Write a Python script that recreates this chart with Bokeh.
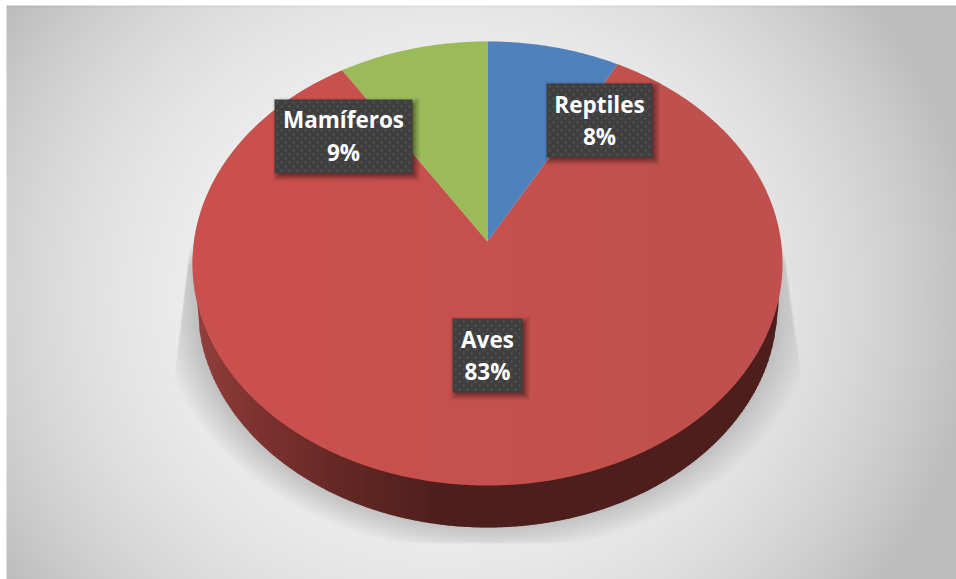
import numpy as np
from bokeh.core.properties import value
from bokeh.embed import file_html
from bokeh.plotting import figure
from bokeh.resources import INLINE

# Share of species per animal class
categories = ["Reptiles", "Aves", "Mamíferos"]
percentages = [8, 83, 9]
slice_colors = ["#4f81bd", "#c0504d", "#9bbb59"]

WIDTH, HEIGHT = 956, 579

# Geometry of the tilted disc, in page pixels
APEX_X, APEX_Y = 487, 241
TOP_RY, BOTTOM_RY = 200, 244
TILT = (BOTTOM_RY - TOP_RY) / (BOTTOM_RY + TOP_RY)
DEPTH = TOP_RY * (1 + TILT)
SPAN = 295 * np.sqrt(1 - TILT ** 2)
FACE_CY, FACE_RX, FACE_RY = 263, 295, 222
BASE_CY, BASE_RX, BASE_RY = 305, 290, 222


def project(theta):
    """Map a clockwise angle from twelve o'clock onto the tilted disc."""
    u, v = np.sin(theta), np.cos(theta)
    w = 1 + TILT * v
    return APEX_X + SPAN * u / w, APEX_Y - DEPTH * v / w


def backdrop():
    """Radial grey panel with the soft shadow thrown by the disc."""
    yy, xx = np.mgrid[0:HEIGHT, 0:WIDTH] + 0.5
    t = np.hypot((xx - 445) / 530, (yy - 295) / 490)
    grey = 244 - 54 * np.clip(t, 0, 1) ** 2.6

    dx = xx - APEX_X
    dy = np.maximum(yy - BASE_CY, 0)
    q = np.hypot(dx / 328, dy / 248)
    fade = np.clip((1 - q) / 0.115, 0, 1) ** 0.9
    left = 185 - (yy - 280) * 13 / 107
    right = 788 + (yy - 280) * 15 / 107
    fade *= np.clip((xx - left) / 1.5, 0, 1) * np.clip((right - xx) / 1.5, 0, 1)
    fade *= np.clip((543 - yy) / 1.0, 0, 1) * np.clip((yy - 245) / 20, 0, 1)
    grey = grey * (1 - fade) + 192 * fade

    grey = np.where((xx < 6) | (yy < 5), 255, grey)
    grey = np.where((xx >= 6) & (yy >= 5) & (yy < 7), grey - 8, grey)
    g = grey.astype(np.uint32)
    return (255 << 24) | (g << 16) | (g << 8) | g


def wall_color(x):
    stops = [192, 250, 350, 450, 782]
    r = np.interp(x, stops, [0x92, 0x80, 0x62, 0x4d, 0x4d])
    g = np.interp(x, stops, [0x40, 0x34, 0x27, 0x1e, 0x1e])
    b = np.interp(x, stops, [0x3e, 0x31, 0x24, 0x1c, 0x1c])
    return f"#{int(r):02x}{int(g):02x}{int(b):02x}"


p = figure(
    width=WIDTH, height=HEIGHT, x_range=(0, WIDTH), y_range=(HEIGHT, 0),
    output_backend="svg", toolbar_location=None, min_border=0,
    x_axis_type=None, y_axis_type=None, outline_line_color=None,
)
p.grid.visible = False

p.image_rgba(image=[backdrop()], x=0, y=0, dw=WIDTH, dh=HEIGHT)

# Side wall of the disc, as narrow vertical strips
strip_xs, strip_ys, strip_colors = [], [], []
for x0 in np.arange(APEX_X - BASE_RX, APEX_X + BASE_RX, 2.0):
    x1 = x0 + 3
    xs = np.array([x0, x1])
    rim = BASE_CY + BASE_RY * np.sqrt(np.clip(1 - ((xs - APEX_X) / BASE_RX) ** 2, 0, 1))
    strip_xs.append([x0, x1, x1, x0])
    strip_ys.append([FACE_CY, FACE_CY, rim[1], rim[0]])
    strip_colors.append(wall_color(x0))
p.patches(strip_xs, strip_ys, fill_color=strip_colors, line_color=None)


def slice_outline(start, stop):
    theta = np.radians(np.linspace(start, stop, max(int(stop - start) * 2, 8)))
    x, y = project(theta)
    return [APEX_X, *x, APEX_X], [APEX_Y, *y, APEX_Y]


# Slices run clockwise from twelve o'clock
edges = np.cumsum([0] + percentages) * 3.6
outlines = {c: slice_outline(a, b) for c, a, b in zip(categories, edges[:-1], edges[1:])}
colors = dict(zip(categories, slice_colors))

xs, ys = outlines["Aves"]
p.patch(xs, ys, fill_color=colors["Aves"], line_color=None)

# Very faint warm light falling from the left across the top face
for x_k in np.linspace(290, 690, 10):
    lim = np.arccos(np.clip((x_k - APEX_X) / FACE_RX, -1, 1))
    a = np.linspace(lim, 2 * np.pi - lim, 160)
    p.patch(APEX_X + FACE_RX * np.cos(a), FACE_CY + FACE_RY * np.sin(a),
            fill_color="#dd5f5c", fill_alpha=0.04, line_color=None)

for name in ("Reptiles", "Mamíferos"):
    xs, ys = outlines[name]
    p.patch(xs, ys, fill_color=colors[name], line_color=None)

# Data labels: left, right, top, bottom of each box and the two text rows
label_boxes = {
    "Reptiles": (546, 652, 83, 157, 104, 136),
    "Aves": (452, 522, 318, 392, 339, 371),
    "Mamíferos": (274, 412, 99, 173, 119, 152),
}
for name, pct in zip(categories, percentages):
    l, r, t, b, row1, row2 = label_boxes[name]
    cx, cy = (l + r) / 2, (t + b) / 2
    for grow, alpha in zip(range(7, -1, -1), (0.03, 0.04, 0.05, 0.06, 0.07, 0.08, 0.09, 0.10)):
        p.rect(cx + 3, cy + 3, r - l + 2 * grow - 4, b - t + 2 * grow - 4,
               fill_color="black", fill_alpha=alpha, line_color=None)
    p.rect(cx, cy, r - l, b - t, fill_color="#3f3f3f", line_color=None)

    dot_x, dot_y = [], []
    for k, yy in enumerate(np.arange(t + 3, b - 1, 4.0)):
        for xx in np.arange(l + 3 + (k % 2) * 4.0, r - 1, 8.0):
            dot_x.append(xx)
            dot_y.append(yy)
    p.rect(dot_x, dot_y, 2, 2, fill_color="#565656", line_color=None)

    p.text([cx, cx], [row1, row2], text=[name, f"{pct}%"],
           text_font=value("Open Sans"), text_font_style="bold", text_font_size="22.5px",
           text_color="white", text_align="center", text_baseline="middle")

open("out.html", "w").write(file_html(p, INLINE))
